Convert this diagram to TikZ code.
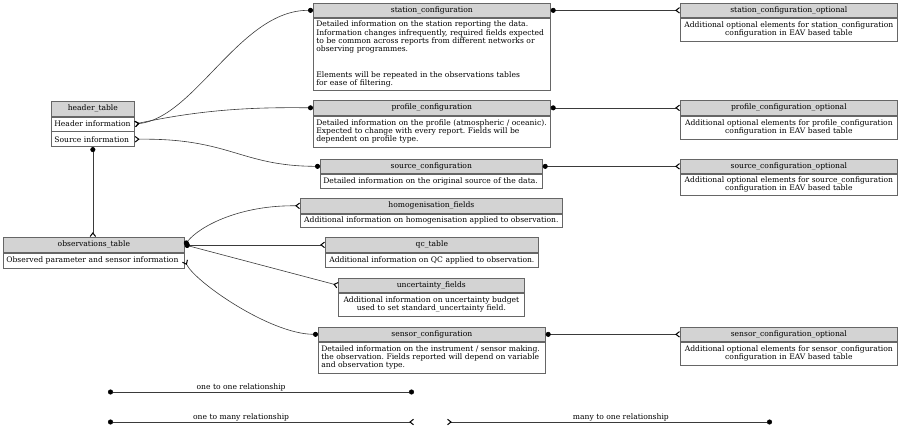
\documentclass[tikz,border=0pt]{standalone}
\usepackage{fontspec}
\setmainfont{DejaVu Serif}
\usetikzlibrary{arrows.meta}
\definecolor{hdrfill}{HTML}{D3D3D3}
\definecolor{bordercol}{HTML}{666666}
\definecolor{edgecol}{HTML}{3A3A3A}
\newcommand\tabfont{\fontsize{7.6}{8.4}\selectfont\frenchspacing}
\tikzset{
  tb/.style={draw=bordercol, line width=0.7pt, inner sep=0pt, anchor=north west, font=\tabfont},
  hdr/.style={tb, fill=hdrfill, align=center},
  bodyl/.style={tb, fill=white, align=left, inner xsep=3pt},
  bodyc/.style={tb, fill=white, align=center, inner xsep=2pt},
  conn/.style={draw=edgecol, line width=0.6pt},
  dotend/.tip={Circle[length=5pt, color=black]},
  crowend/.tip={Straight Barb[reversed,length=3.5pt,width=5.5pt,line width=1pt,color=black]},
  tipdc/.style={conn, {dotend}-{crowend}},
  tipcd/.style={conn, {crowend}-{dotend}},
  tipdd/.style={conn, {dotend}-{dotend}},
  leglabel/.style={font=\tabfont, inner sep=0.6pt, above}
}
\begin{document}
\begin{tikzpicture}[x=1pt,y=-1pt]
\useasboundingbox (0,0) rectangle (900,434);

% header_table
\node[hdr, minimum width=83pt, minimum height=15pt] (ht) at (51,101) {header\_table};
\node[bodyl, text width=77pt, minimum height=14pt] (hti) at (ht.south west) {Header information};
\node[bodyl, text width=77pt, minimum height=15pt] (hsi) at (hti.south west) {Source information};

% station_configuration
\node[hdr, minimum width=237pt, minimum height=14pt] (sc) at (313,3) {station\_configuration};
\node[bodyl, text width=231pt, minimum height=72pt] (scb) at (sc.south west) {Detailed information on the station reporting the data.\\
Information changes infrequently, required fields expected\\
to be common across reports from different networks or\\
observing programmes.\\
\mbox{}\\
\mbox{}\\
Elements will be repeated in the observations tables\\
for ease of filtering.};

\node[hdr, minimum width=217pt, minimum height=14pt] (sco) at (680,3) {station\_configuration\_optional};
\node[bodyc, text width=213pt, minimum height=23pt] (scob) at (sco.south west) {Additional optional elements for station\_configuration\\configuration in EAV based table};

% profile_configuration
\node[hdr, minimum width=237pt, minimum height=15pt] (pc) at (313,100) {profile\_configuration};
\node[bodyl, text width=231pt, minimum height=31pt] (pcb) at (pc.south west) {Detailed information on the profile (atmospheric / oceanic).\\
Expected to change with every report. Fields will be\\
dependent on profile type.};

\node[hdr, minimum width=217pt, minimum height=15pt] (pco) at (680,100) {profile\_configuration\_optional};
\node[bodyc, text width=213pt, minimum height=23pt] (pcob) at (pco.south west) {Additional optional elements for profile\_configuration\\configuration in EAV based table};

% source_configuration
\node[hdr, minimum width=222pt, minimum height=14pt] (src) at (320,159) {source\_configuration};
\node[bodyl, text width=216pt, minimum height=14pt] (srcb) at (src.south west) {Detailed information on the original source of the data.};

\node[hdr, minimum width=217pt, minimum height=14pt] (srco) at (680,159) {source\_configuration\_optional};
\node[bodyc, text width=213pt, minimum height=21pt] (srcob) at (srco.south west) {Additional optional elements for source\_configuration\\configuration in EAV based table};

% homogenisation_fields
\node[hdr, minimum width=262pt, minimum height=15pt] (hf) at (300,198) {homogenisation\_fields};
\node[bodyc, text width=258pt, minimum height=13pt] (hfb) at (hf.south west) {Additional information on homogenisation applied to observation.};

% observations_table
\node[hdr, minimum width=181pt, minimum height=15pt] (ot) at (3,237) {observations\_table};
\node[bodyl, text width=175pt, minimum height=15pt] (otb) at (ot.south west) {Observed parameter and sensor information};

% qc_table
\node[hdr, minimum width=213pt, minimum height=15pt] (qc) at (325,237) {qc\_table};
\node[bodyc, text width=209pt, minimum height=14pt] (qcb) at (qc.south west) {Additional information on QC applied to observation.};

% uncertainty_fields
\node[hdr, minimum width=186pt, minimum height=14pt] (uf) at (338,278) {uncertainty\_fields};
\node[bodyc, text width=182pt, minimum height=23pt] (ufb) at (uf.south west) {Additional information on uncertainty budget\\used to set standard\_uncertainty field.};

% sensor_configuration
\node[hdr, minimum width=227pt, minimum height=14pt] (sn) at (318,327) {sensor\_configuration};
\node[bodyl, text width=221pt, minimum height=31pt] (snb) at (sn.south west) {Detailed information on the instrument / sensor making.\\
the observation. Fields reported will depend on variable\\
and observation type.};

\node[hdr, minimum width=217pt, minimum height=14pt] (sno) at (680,327) {sensor\_configuration\_optional};
\node[bodyc, text width=213pt, minimum height=23pt] (snob) at (sno.south west) {Additional optional elements for sensor\_configuration\\configuration in EAV based table};

% connectors
\draw[tipcd] (hti.east) .. controls (195,118) and (240,10) .. (sc.west);
\draw[tipcd] (hti.east) .. controls (200,110) and (250,107) .. (pc.west);
\draw[tipcd] (hsi.east) .. controls (230,138) and (240,166) .. (src.west);
\draw[tipdc] (hsi.south) -- (hsi.south |- ot.north);
\draw[tipdc] (ot.east) .. controls (200,226) and (240,205) .. (hf.west);
\draw[tipdc] (ot.east) -- (qc.west);
\draw[tipdc] (ot.east) -- (uf.west);
\draw[tipcd] (otb.east) .. controls (195,282) and (270,334) .. (sn.west);
\draw[tipdc] (sc.east) -- (sco.west);
\draw[tipdc] (pc.east) -- (pco.west);
\draw[tipdc] (src.east) -- (srco.west);
\draw[tipdc] (sn.east) -- (sno.west);

% legend
\coordinate (l1a) at (108,392);
\coordinate (l1b) at (414,392);
\coordinate (l2a) at (108,422);
\coordinate (l2b) at (414,422);
\coordinate (l3a) at (447,422);
\coordinate (l3b) at (772,422);
\draw[tipdd] (l1a) -- node[leglabel, pos=0.435] (lg1) {one to one relationship} (l1b);
\draw[tipdc] (l2a) -- node[leglabel, pos=0.435] (lg2) {one to many relationship} (l2b);
\draw[tipcd] (l3a) -- node[leglabel, pos=0.535] (lg3) {many to one relationship} (l3b);
\end{tikzpicture}
\end{document}
